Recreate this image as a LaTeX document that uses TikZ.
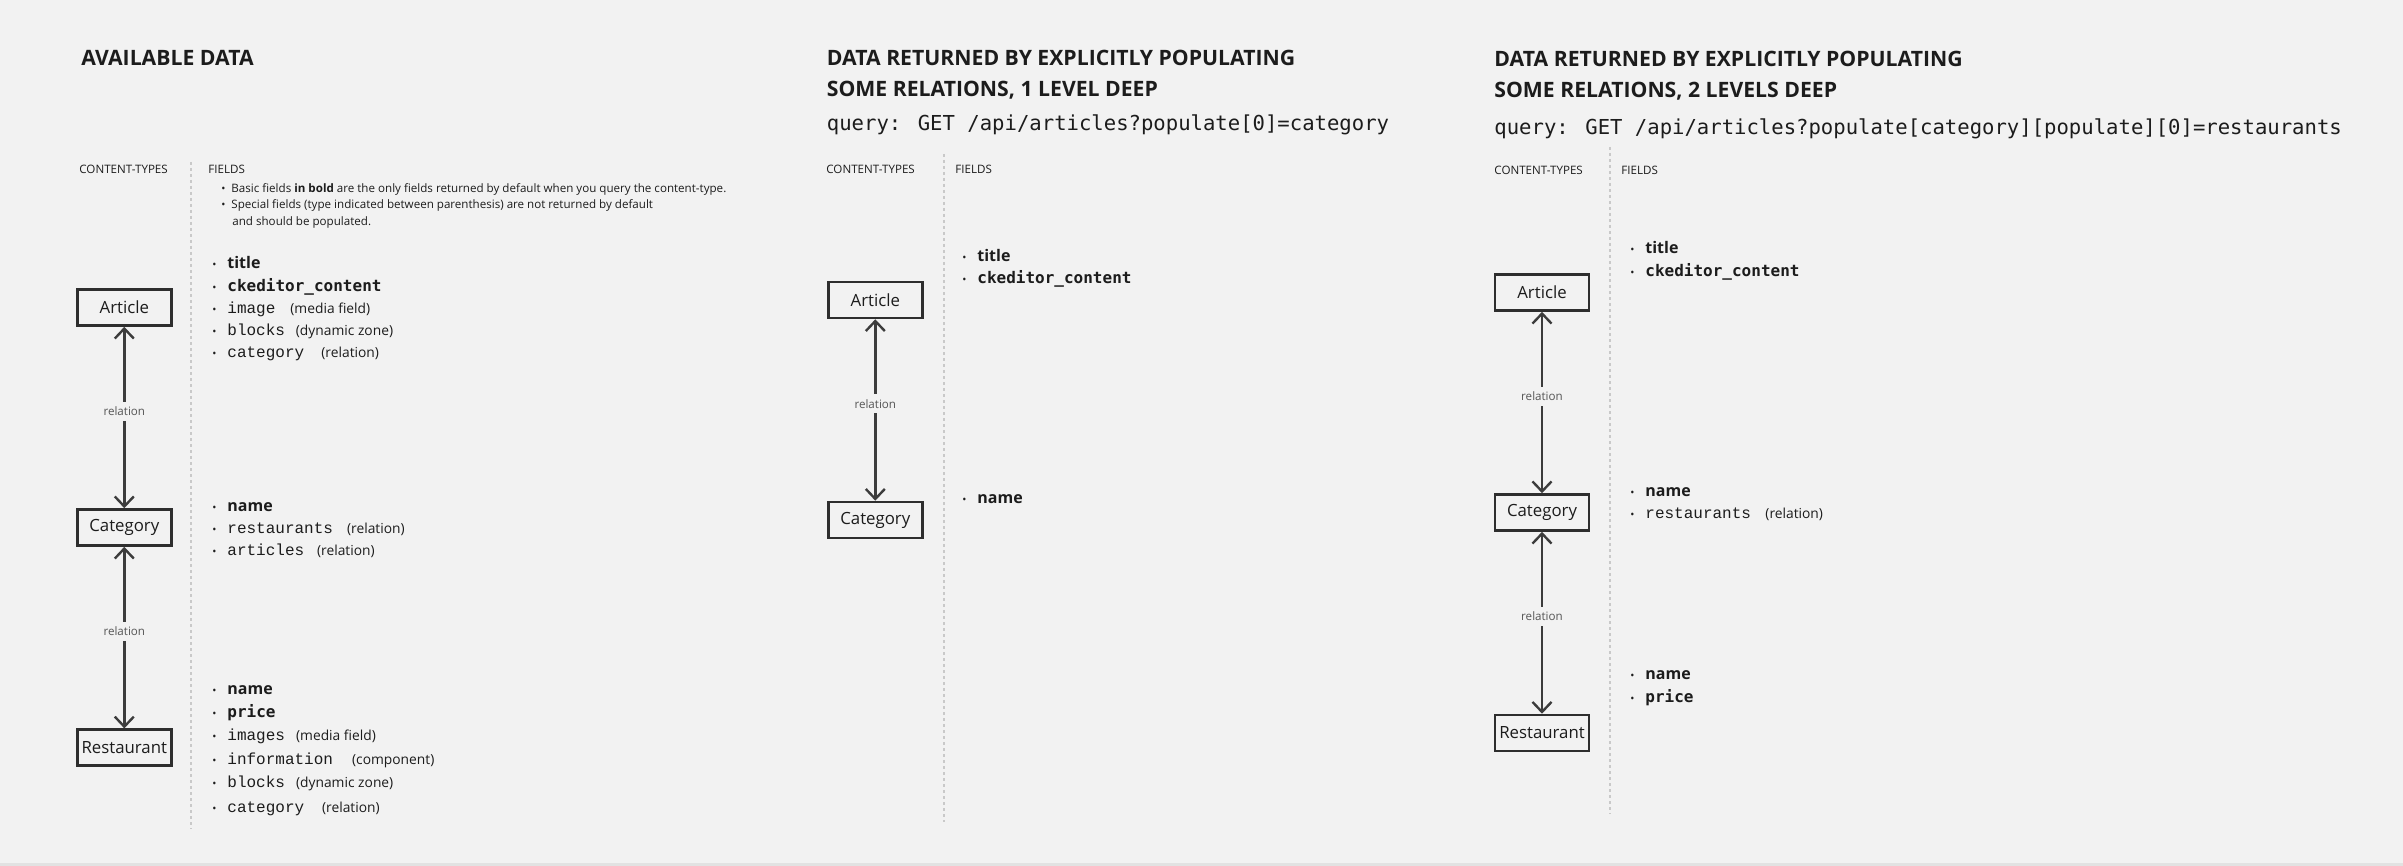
\documentclass[tikz,border=0pt]{standalone}
\usepackage{fontspec}
\setmainfont{Open Sans}
\newfontfamily\fieldmono{Liberation Mono}
\newfontfamily\querymono{DejaVu Sans Mono}
\usetikzlibrary{arrows.meta}
\definecolor{bg}{HTML}{F2F2F2}
\definecolor{edge}{HTML}{E2E2E2}
\definecolor{ink}{HTML}{1C1C1C}
\definecolor{boxline}{HTML}{2E2E2E}
\definecolor{arrowc}{HTML}{3C3C3C}
\definecolor{labc}{HTML}{555555}
\definecolor{sepc}{HTML}{C9C9C9}
\newcommand{\bul}[1][7.5pt]{\makebox[#1][l]{\normalfont\fontsize{5.5pt}{6pt}\selectfont\textbullet}}

\begin{document}
\begin{tikzpicture}[x=0.5pt,y=-0.5pt,
  ct/.style={draw=boxline,line width=1.3pt,fill=bg,minimum width=47pt,minimum height=18pt,inner sep=0pt,font=\fontsize{8.4pt}{9pt}\selectfont,text=ink},
  rel/.style={<->,draw=arrowc,line width=1.2pt,>={Straight Barb[length=5pt,width=9.5pt]}},
  rlab/.style={pos=.465,fill=bg,inner xsep=1pt,inner ysep=2.5pt,font=\fontsize{5.8pt}{6pt}\selectfont,text=labc},
  head/.style={anchor=base west,inner sep=0pt,font=\fontsize{10.6pt}{12pt}\selectfont\bfseries,text=ink},
  query/.style={anchor=mid west,inner sep=0pt,font=\fontsize{10.3pt}{12pt}\querymono,text=ink},
  col/.style={anchor=base west,inner sep=0pt,font=\fontsize{5.8pt}{7pt}\selectfont,text=ink},
  fld/.style={anchor=mid west,inner sep=0pt,font=\fontsize{8pt}{9pt}\fieldmono,text=ink},
  fldb/.style={fld,font=\fontsize{8pt}{9pt}\querymono\bfseries},
  fldt/.style={fld,font=\fontsize{8pt}{9pt}\selectfont\bfseries},
  note/.style={anchor=mid west,inner sep=0pt,font=\fontsize{6.9pt}{8pt}\selectfont,text=ink},
  sep/.style={draw=sepc,line width=0.75pt,dash pattern=on 1.5pt off 1.5pt}]
   \useasboundingbox (0,0) rectangle (2403,866);
   \fill[bg] (0,0) rectangle (2403,866);
   \fill[edge] (0,863) rectangle (2403,866);

   % available data
   \node[head] (t1) at (81,66) {AVAILABLE DATA};
   \node[col] (a-ct) at (79,174) {CONTENT-TYPES};
   \node[col] (a-fl) at (208,174) {FIELDS};
   \node[col,anchor=mid west] (a-n1) at (221,187) {\bul[5pt]Basic fields \textbf{in bold} are the only fields returned by default when you query the content-type.};
   \node[col,anchor=mid west] (a-n2) at (221,203) {\bul[5pt]Special fields (type indicated between parenthesis) are not returned by default};
   \node[col,anchor=mid west] (a-n3) at (232,220) {and should be populated.};
   \draw[sep] (191,162) -- (191,829);

   \node[ct] (a-art) at (124.3,307.5) {Article};
   \node[ct] (a-cat) at (124.3,527.5) {Category};
   \node[ct] (a-res) at (124.3,747.7) {Restaurant};

   \node[fldt] (a-art1) at (212,263) {\bul title};
   \node[fldb] (a-art2) at (212,286) {\bul ckeditor\_content};
   \node[fld] (a-art3) at (212,308) {\bul image};
   \node[note] (a-art3n) at (290,308) {(media field)};
   \node[fld] (a-art4) at (212,330) {\bul blocks};
   \node[note] (a-art4n) at (295.5,330) {(dynamic zone)};
   \node[fld] (a-art5) at (212,352) {\bul category};
   \node[note] (a-art5n) at (321,352) {(relation)};

   \node[fldt] (a-cat1) at (212,505.7) {\bul name};
   \node[fld] (a-cat2) at (212,527.7) {\bul restaurants};
   \node[note] (a-cat2n) at (346.7,527.7) {(relation)};
   \node[fld] (a-cat3) at (212,549.7) {\bul articles};
   \node[note] (a-cat3n) at (316.7,549.7) {(relation)};

   \node[fldt] (a-res1) at (212,689) {\bul name};
   \node[fldb] (a-res2) at (212,712.3) {\bul price};
   \node[fld] (a-res3) at (212,735) {\bul images};
   \node[note] (a-res3n) at (295.7,735) {(media field)};
   \node[fld] (a-res4) at (212,759.3) {\bul information};
   \node[note] (a-res4n) at (351.7,759.3) {(component)};
   \node[fld] (a-res5) at (212,782.3) {\bul blocks};
   \node[note] (a-res5n) at (295.7,782.3) {(dynamic zone)};
   \node[fld] (a-res6) at (212,807.3) {\bul category};
   \node[note] (a-res6n) at (321.7,807.3) {(relation)};

   \draw[rel] (a-art) -- node[rlab] (a-rel1) {relation} (a-cat);
   \draw[rel] (a-cat) -- node[rlab] (a-rel2) {relation} (a-res);

   % 1 level deep
   \node[head] (t2) at (826.5,66) {DATA RETURNED BY EXPLICITLY POPULATING};
   \node[head] (t2b) at (826.5,97) {SOME RELATIONS, 1 LEVEL DEEP};
   \node[query] (q2) at (826.5,125) {query: GET /api/articles?populate[0]=category};
   \node[col] (b-ct) at (826,174) {CONTENT-TYPES};
   \node[col] (b-fl) at (955,174) {FIELDS};
   \draw[sep] (944,154) -- (944,822);

   \node[ct] (b-art) at (875.3,300) {Article};
   \node[ct] (b-cat) at (875.3,520) {Category};

   \node[fldt] (b-art1) at (962,256) {\bul title};
   \node[fldb] (b-art2) at (962,278.3) {\bul ckeditor\_content};
   \node[fldt] (b-cat1) at (962,498.3) {\bul name};

   \draw[rel] (b-art) -- node[rlab] (b-rel1) {relation} (b-cat);

   % 2 levels deep
   \node[head] (t3) at (1494,67) {DATA RETURNED BY EXPLICITLY POPULATING};
   \node[head] (t3b) at (1494,98) {SOME RELATIONS, 2 LEVELS DEEP};
   \node[query] (q3) at (1494,129) {query: GET /api/articles?populate[category][populate][0]=restaurants};
   \node[col] (c-ct) at (1494,175) {CONTENT-TYPES};
   \node[col] (c-fl) at (1621,175) {FIELDS};
   \draw[sep] (1610,147) -- (1610,814);

   \node[ct] (c-art) at (1542,292.5) {Article};
   \node[ct] (c-cat) at (1542,512.5) {Category};
   \node[ct] (c-res) at (1542,733) {Restaurant};

   \node[fldt] (c-art1) at (1630,248) {\bul title};
   \node[fldb] (c-art2) at (1630,271) {\bul ckeditor\_content};
   \node[fldt] (c-cat1) at (1630,491) {\bul name};
   \node[fld] (c-cat2) at (1630,513) {\bul restaurants};
   \node[note] (c-cat2n) at (1765,513) {(relation)};
   \node[fldt] (c-res1) at (1630,674) {\bul name};
   \node[fldb] (c-res2) at (1630,697.3) {\bul price};

   \draw[rel] (c-art) -- node[rlab] (c-rel1) {relation} (c-cat);
   \draw[rel] (c-cat) -- node[rlab] (c-rel2) {relation} (c-res);

\end{tikzpicture}
\end{document}
